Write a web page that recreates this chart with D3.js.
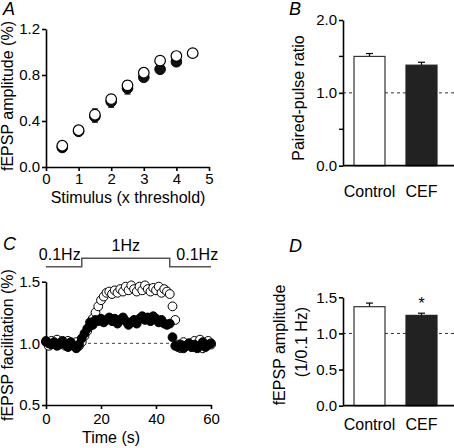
<!DOCTYPE html>
<html><head><meta charset="utf-8">
<script src="https://cdn.jsdelivr.net/npm/d3@7"></script>
<style>
body{margin:0;background:#fff;}
svg{display:block;font-family:"Liberation Sans",Arial,sans-serif;}
.axis path,.axis line{stroke:#000;stroke-width:1.6;}
.axis text{font-size:15px;fill:#000;font-family:"Liberation Sans",Arial,sans-serif;}
</style></head><body>
<script>
// ---------- Panel A data ----------
const stimX = [0.5,1,1.5,2,2.5,3,3.5,4,4.5];
const ampControl = [0.185,0.32,0.455,0.59,0.71,0.82,0.925,0.965,0.99];
const ampControlErr = [0.02,0.03,0.05,0.04,0.04,0.03,0.02,0.02,0.02];
const stimXCEF = [0.5,1,1.5,2,2.5,3,3.5,4];
const ampCEF = [0.17,0.31,0.44,0.57,0.685,0.78,0.85,0.915];
const ampCEFErr = [0.02,0.03,0.05,0.05,0.05,0.03,0.02,0.02];
const axisATicksX = [0,1,2,3,4,5];
const axisATicksY = [0,0.4,0.8,1.2];
// ---------- Panel B data ----------
const groups = ["Control","CEF"];
const ppr = [1.50,1.38];
const pprErr = [0.04,0.04];
const axisBTicks = [0,1,2];
const axisBMinor = [0.5,1.5];
// ---------- Panel C data ----------
const timeS = d3.range(0,61,1);
const facControl = [1.01,0.98,1.02,1.00,1.03,0.99,1.01,0.98,1.02,1.00,0.99,1.01,0.98,
  1.01,1.06,1.10,1.14,1.20,1.25,1.30,1.35,1.38,1.41,1.42,1.40,1.43,1.41,1.44,1.42,1.46,1.43,1.47,1.44,1.42,1.46,1.43,1.47,1.44,1.42,1.45,1.43,1.46,1.41,1.44,1.42,1.40,1.30,1.19,
  0.99,0.96,1.01,0.98,1.00,0.97,1.02,0.99,1.03,0.96,0.98,1.02,0.99];
const facCEF = [1.02,1.00,0.99,1.01,0.98,1.00,1.02,0.99,0.97,1.01,0.98,0.96,0.99,
  1.04,1.08,1.12,1.17,1.15,1.19,1.18,1.20,1.17,1.19,1.21,1.18,1.20,1.16,1.19,1.21,1.18,1.15,1.17,1.19,1.16,1.20,1.22,1.19,1.21,1.18,1.22,1.20,1.17,1.19,1.16,1.15,1.16,1.05,0.98,
  0.97,0.99,0.96,0.98,1.00,0.97,0.99,0.96,0.98,1.01,0.97,0.99,1.00];
const stimProtocol = [{t:0,f:0.1},{t:13,f:0.1},{t:13,f:1},{t:45,f:1},{t:45,f:0.1},{t:60,f:0.1}];
const protocolLabels = [{t:5,text:"0.1Hz",f:0.1},{t:29,text:"1Hz",f:1},{t:55,text:"0.1Hz",f:0.1}];
const axisCTicksX = [0,20,40,60];
const axisCTicksY = [0.5,1.0,1.5];
// ---------- Panel D data ----------
const ampRatio = [1.37,1.25];
const ampRatioErr = [0.05,0.03];
const axisDTicks = [0,0.5,1.0,1.5];

const svg = d3.select("body").append("svg").attr("width",454).attr("height",448);
const fmt1 = d3.format(".1f");

function italicLabel(x,y,t){
  svg.append("text").attr("x",x).attr("y",y).attr("font-size",18).attr("font-style","italic").text(t);
}
function yLabel(x,y,t){
  svg.append("text").attr("transform",`translate(${x},${y}) rotate(-90)`).attr("text-anchor","middle").attr("font-size",16).text(t);
}
function styleAxis(g){ g.attr("class","axis"); g.select(".domain").attr("stroke-width",1.8); }

// ================= Panel A =================
{
  const x = d3.scaleLinear().domain([0,5]).range([46,209]);
  const y = d3.scaleLinear().domain([0,1.2]).range([167,29]);
  svg.append("g").attr("transform","translate(0,167)")
    .call(d3.axisBottom(x).tickValues(axisATicksX).tickFormat(d3.format("d")).tickSize(4).tickSizeOuter(0).tickPadding(2))
    .call(styleAxis).selectAll("text").attr("dy","0.72em");
  svg.append("g").attr("transform","translate(46,0)")
    .call(d3.axisLeft(y).tickValues(axisATicksY).tickFormat(fmt1).tickSize(4).tickSizeOuter(0).tickPadding(2))
    .call(styleAxis);
  const gA = svg.append("g");
  ampCEF.forEach((v,i)=>{
    const cx = x(stimXCEF[i]);
    gA.append("line").attr("x1",cx).attr("x2",cx).attr("y1",y(v-ampCEFErr[i])).attr("y2",y(v)).attr("stroke","#000").attr("stroke-width",1.2);
    gA.append("line").attr("x1",cx-3).attr("x2",cx+3).attr("y1",y(v-ampCEFErr[i])).attr("y2",y(v-ampCEFErr[i])).attr("stroke","#000").attr("stroke-width",1.2);
  });
  ampControl.forEach((v,i)=>{
    const cx = x(stimX[i]);
    gA.append("line").attr("x1",cx).attr("x2",cx).attr("y1",y(v+ampControlErr[i])).attr("y2",y(v)).attr("stroke","#000").attr("stroke-width",1.2);
    gA.append("line").attr("x1",cx-3).attr("x2",cx+3).attr("y1",y(v+ampControlErr[i])).attr("y2",y(v+ampControlErr[i])).attr("stroke","#000").attr("stroke-width",1.2);
  });
  gA.selectAll("circle.cef").data(ampCEF).join("circle").attr("class","cef")
    .attr("cx",(d,i)=>x(stimXCEF[i])).attr("cy",d=>y(d)).attr("r",5.3).attr("fill","#111").attr("stroke","#000");
  gA.selectAll("circle.ctl").data(ampControl).join("circle").attr("class","ctl")
    .attr("cx",(d,i)=>x(stimX[i])).attr("cy",d=>y(d)).attr("r",5.3).attr("fill","#fff").attr("stroke","#000").attr("stroke-width",1.2);
  svg.append("text").attr("x",128).attr("y",203).attr("text-anchor","middle").attr("font-size",16).text("Stimulus (x threshold)");
  yLabel(13,96,"fEPSP amplitude (%)");
  italicLabel(3,15,"A");
}

// ================= Bar panels helper =================
function barPanel(opts){
  const {y0,y1,domain,ticks,minor,vals,errs,labelY,ytitle,letter,letterY,star} = opts;
  const x = d3.scaleBand().domain(groups).range([354,437]).paddingInner(0.404).paddingOuter(0);
  const y = d3.scaleLinear().domain(domain).range([y0,y1]);
  svg.append("line").attr("x1",343).attr("x2",454).attr("y1",y(1)).attr("y2",y(1))
    .attr("stroke","#333").attr("stroke-width",1).attr("stroke-dasharray","3,3");
  const g = svg.append("g");
  vals.forEach((v,i)=>{
    const bx = x(groups[i]), bw = x.bandwidth(), cx = bx+bw/2;
    g.append("line").attr("x1",cx).attr("x2",cx).attr("y1",y(v)).attr("y2",y(v+errs[i])).attr("stroke","#000").attr("stroke-width",1.2);
    g.append("line").attr("x1",cx-3.5).attr("x2",cx+3.5).attr("y1",y(v+errs[i])).attr("y2",y(v+errs[i])).attr("stroke","#000").attr("stroke-width",1.2);
    g.append("rect").attr("x",bx).attr("y",y(v)).attr("width",bw).attr("height",y(domain[0])-y(v))
      .attr("fill",i===0?"#fff":"#222").attr("stroke",i===0?"#333":"#222").attr("stroke-width",1.2);
  });
  svg.append("line").attr("x1",343).attr("x2",454).attr("y1",y0).attr("y2",y0).attr("stroke","#000").attr("stroke-width",1.8);
  svg.append("g").attr("transform","translate(343,0)")
    .call(d3.axisLeft(y).tickValues(ticks).tickFormat(fmt1).tickSize(4).tickSizeOuter(0).tickPadding(2))
    .call(styleAxis);
  if(minor){
    svg.append("g").selectAll("line").data(minor).join("line")
      .attr("x1",339).attr("x2",343).attr("y1",d=>y(d)).attr("y2",d=>y(d)).attr("stroke","#000").attr("stroke-width",1.4);
  }
  groups.forEach((gname,i)=>{
    svg.append("text").attr("x",x(gname)+x.bandwidth()/2).attr("y",labelY).attr("text-anchor","middle").attr("font-size",16).text(gname);
  });
  if(star){
    svg.append("text").attr("x",x(groups[1])+x.bandwidth()/2).attr("y",y(vals[1]+errs[1])-4).attr("text-anchor","middle").attr("font-size",16).text("*");
  }
  ytitle();
  italicLabel(289,letterY,letter);
}

// ================= Panel B =================
barPanel({y0:165.7,y1:20,domain:[0,2],ticks:axisBTicks,minor:axisBMinor,vals:ppr,errs:pprErr,labelY:197,
  ytitle:()=>yLabel(304,98,"Paired-pulse ratio"),letter:"B",letterY:15,star:false});

// ================= Panel C =================
{
  const x = d3.scaleLinear().domain([0,60]).range([46,211]);
  const y = d3.scaleLinear().domain([0.5,1.5]).range([405,281.7]);
  const fy = d3.scaleOrdinal().domain([0.1,1]).range([266.7,258.3]);
  svg.append("line").attr("x1",x(0)).attr("x2",x(60)).attr("y1",y(1)).attr("y2",y(1))
    .attr("stroke","#444").attr("stroke-width",1).attr("stroke-dasharray","3,3");
  svg.append("g").attr("transform","translate(0,405)")
    .call(d3.axisBottom(x).tickValues(axisCTicksX).tickFormat(d3.format("d")).tickSize(4).tickSizeOuter(0).tickPadding(2))
    .call(styleAxis).selectAll("text").attr("dy","0.85em");
  svg.append("g").attr("transform","translate(46,0)")
    .call(d3.axisLeft(y).tickValues(axisCTicksY).tickFormat(fmt1).tickSize(4).tickSizeOuter(0).tickPadding(2))
    .call(styleAxis);
  svg.append("path").datum(stimProtocol)
    .attr("d",d3.line().x(d=>x(d.t)).y(d=>fy(d.f)))
    .attr("fill","none").attr("stroke","#555").attr("stroke-width",1.5);
  protocolLabels.forEach(l=>{
    svg.append("text").attr("x",x(l.t)).attr("y",fy(l.f)-7).attr("text-anchor","middle").attr("font-size",16).text(l.text);
  });
  svg.append("g").selectAll("circle").data(facControl).join("circle")
    .attr("cx",(d,i)=>x(timeS[i])).attr("cy",d=>y(d)).attr("r",4.4).attr("fill","#fff").attr("stroke","#000").attr("stroke-width",1);
  svg.append("g").selectAll("circle").data(facCEF).join("circle")
    .attr("cx",(d,i)=>x(timeS[i])).attr("cy",d=>y(d)).attr("r",4.4).attr("fill","#000").attr("stroke","#000").attr("stroke-width",1);
  svg.append("text").attr("x",111).attr("y",443).attr("text-anchor","middle").attr("font-size",16).text("Time (s)");
  yLabel(13,345,"fEPSP facilitation (%)");
  italicLabel(3,250,"C");
}

// ================= Panel D =================
barPanel({y0:405.7,y1:297.3,domain:[0,1.5],ticks:axisDTicks,minor:null,vals:ampRatio,errs:ampRatioErr,labelY:430,
  ytitle:()=>{ yLabel(285,345,"fEPSP amplitude"); yLabel(307,342,"(1/0.1 Hz)"); },letter:"D",letterY:252,star:true});
</script>
</body></html>
